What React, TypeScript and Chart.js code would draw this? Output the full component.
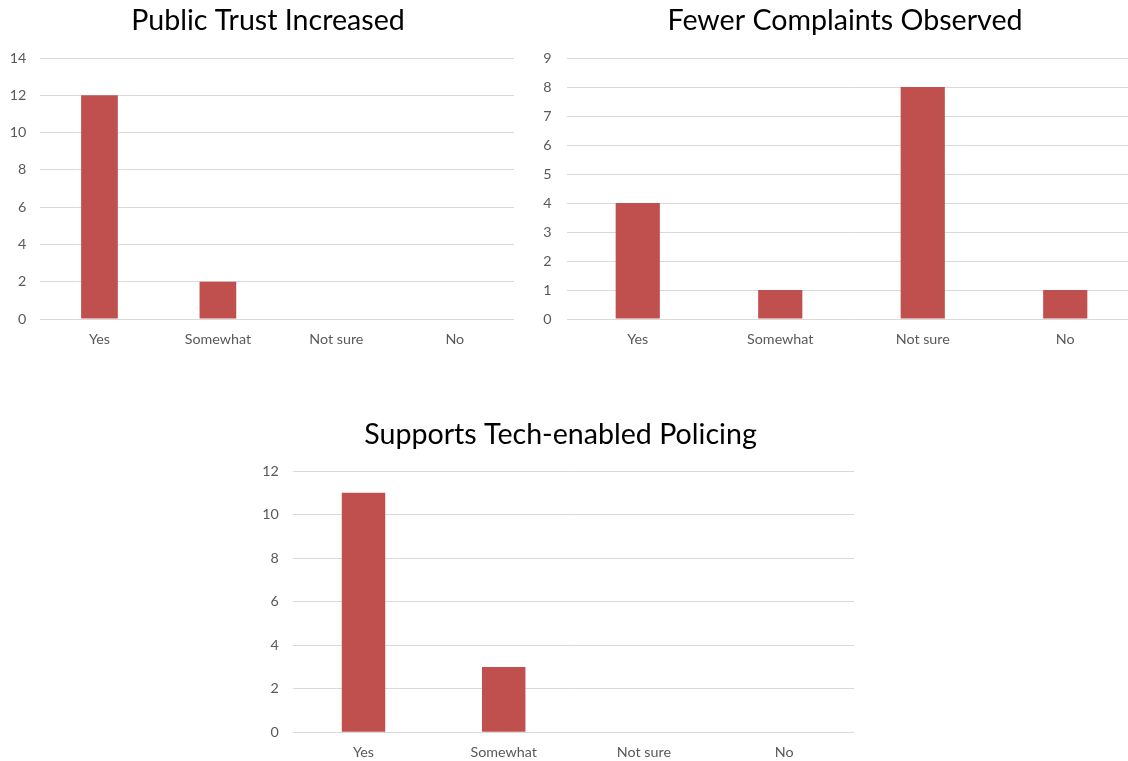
import React, { useEffect, useRef } from "react";
import { Chart, registerables } from "chart.js";

Chart.register(...registerables);

// ---- Data ----
const categories = ["Yes", "Somewhat", "Not sure", "No"];
const trustValues = [12, 2, 0, 0];
const complaintsValues = [4, 1, 8, 1];
const techValues = [11, 3, 0, 0];

const trustTitle = "Public Trust Increased";
const complaintsTitle = "Fewer Complaints Observed";
const techTitle = "Supports Tech-enabled Policing";

const trustAxis = [0, 14, 2]; // min, max, step
const complaintsAxis = [0, 9, 1];
const techAxis = [0, 12, 2];

const BAR_COLOR = "#C0504D";
const GRID_COLOR = "#D9D9D9";
const TICK_COLOR = "#595959";
const FONT = "Lato, 'Open Sans', sans-serif";

type PanelProps = {
  left: number;
  top: number;
  width: number;
  height: number;
  title: string;
  values: number[];
  axis: number[];
  yAxisWidth: number;
  rightSpace: number;
  xAxisHeight: number;
  titlePadTop: number;
  titlePadBottom: number;
  yTickPad: number;
  xTickPad: number;
};

function Panel(p: PanelProps) {
  const ref = useRef<HTMLCanvasElement | null>(null);
  useEffect(() => {
    if (!ref.current) return;
    const chart = new Chart(ref.current, {
      type: "bar",
      data: {
        labels: categories,
        datasets: [
          {
            data: p.values,
            backgroundColor: BAR_COLOR,
            borderWidth: 0,
            barPercentage: 0.31,
            categoryPercentage: 1,
            yAxisID: "y",
          },
        ],
      },
      options: {
        animation: false,
        responsive: false,
        devicePixelRatio: 1,
        layout: { padding: 0 },
        plugins: {
          legend: { display: false },
          tooltip: { enabled: false },
          title: {
            display: true,
            text: p.title,
            color: "#000000",
            font: { family: FONT, size: 28.6, weight: "normal", lineHeight: 1.2 },
            padding: { top: p.titlePadTop, bottom: p.titlePadBottom },
          },
        },
        scales: {
          x: {
            grid: { display: false, drawTicks: false },
            border: { display: false },
            ticks: {
              color: TICK_COLOR,
              font: { family: FONT, size: 14.3 },
              padding: p.xTickPad,
              maxRotation: 0,
            },
            afterFit: (s: any) => {
              s.height = p.xAxisHeight;
            },
          },
          y: {
            position: "left",
            min: p.axis[0],
            max: p.axis[1],
            grid: { color: GRID_COLOR, lineWidth: 1, drawTicks: false },
            border: { display: false },
            ticks: {
              stepSize: p.axis[2],
              color: TICK_COLOR,
              font: { family: FONT, size: 14.3 },
              padding: p.yTickPad,
            },
            afterFit: (s: any) => {
              s.width = p.yAxisWidth;
            },
          },
          spacer: {
            type: "linear",
            position: "right",
            min: p.axis[0],
            max: p.axis[1],
            grid: { display: false, drawTicks: false },
            border: { display: false },
            ticks: { display: false },
            afterFit: (s: any) => {
              s.width = p.rightSpace;
            },
          },
        },
      },
    });
    return () => chart.destroy();
  }, []);
  return (
    <div
      style={{
        position: "absolute",
        left: p.left,
        top: p.top,
        width: p.width,
        height: p.height,
      }}
    >
      <canvas
        ref={ref}
        width={p.width}
        height={p.height}
        style={{ width: p.width, height: p.height, display: "block" }}
      />
    </div>
  );
}

export default function App() {
  return (
    <div
      style={{
        position: "absolute",
        left: 0,
        top: 0,
        width: 1128,
        height: 761,
        overflow: "hidden",
        background: "#ffffff",
      }}
    >
      <Panel
        left={0}
        top={0}
        width={536}
        height={360}
        title={trustTitle}
        values={trustValues}
        axis={trustAxis}
        yAxisWidth={40.25}
        rightSpace={22}
        xAxisHeight={41}
        titlePadTop={3.5}
        titlePadBottom={20.2}
        yTickPad={14}
        xTickPad={11.5}
      />
      <Panel
        left={520}
        top={0}
        width={650}
        height={360}
        title={complaintsTitle}
        values={complaintsValues}
        axis={complaintsAxis}
        yAxisWidth={46.5}
        rightSpace={33.5}
        xAxisHeight={41}
        titlePadTop={3.5}
        titlePadBottom={20.2}
        yTickPad={15}
        xTickPad={11.5}
      />
      <Panel
        left={250}
        top={400}
        width={621}
        height={361}
        title={techTitle}
        values={techValues}
        axis={techAxis}
        yAxisWidth={43.4}
        rightSpace={16.8}
        xAxisHeight={28.7}
        titlePadTop={17.2}
        titlePadBottom={19.5}
        yTickPad={14.5}
        xTickPad={11.5}
      />
    </div>
  );
}
